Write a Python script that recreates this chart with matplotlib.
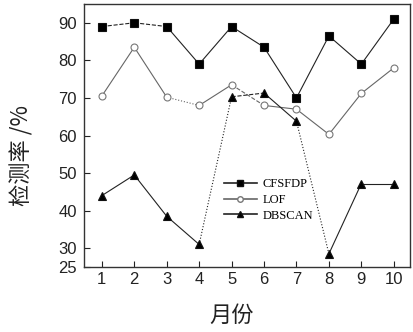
import numpy as np
import matplotlib.pyplot as plt
from matplotlib.lines import Line2D

plt.rcParams['font.family'] = ['Liberation Sans', 'Noto Sans CJK SC', 'DejaVu Sans']

months = np.arange(1, 11)
cfsfdp = [89, 90, 89, 79, 89, 83.5, 70, 86.5, 79, 91]
lof = [70.5, 83.5, 70.2, 68, 73.5, 68, 67, 60.3, 71.2, 78]
dbscan = [44, 49.5, 38.5, 31, 70.3, 71.3, 63.8, 28.5, 47.2, 47.2]
yticks = [25, 30, 40, 50, 60, 70, 80, 90]

# per-segment line styles as seen in the scan
seg_styles = {
    'CFSFDP': ['--', '--', '-', '-', '-', '-', '-', '-', '-'],
    'LOF': ['-', '-', ':', '-', '--', '-', '-', '-', '-'],
    'DBSCAN': ['-', '-', '-', ':', '--', '-', ':', '-', '-'],
}
series = [
    ('CFSFDP', cfsfdp, 's', 'black'),
    ('LOF', lof, 'o', 'white'),
    ('DBSCAN', dbscan, '^', 'black'),
]

fig = plt.figure(figsize=(4.14, 3.32), dpi=100)
ax = fig.add_axes([84 / 414, 1 - 267 / 332, 326 / 414, 263 / 332])

handles = []
for name, vals, mk, fc in series:
    lc = '#666666' if name == 'LOF' else '#222222'
    ec = '#777777' if name == 'LOF' else '#111111'
    styles = seg_styles[name]
    for i in range(len(months) - 1):
        ax.plot(months[i:i + 2], vals[i:i + 2], color=lc, lw=0.8, ls=styles[i])
    ax.plot(months, vals, ls='none', marker=mk, ms=5.5 if mk != 'o' else 5,
            mfc=fc, mec=ec, mew=0.8)
    handles.append(Line2D([], [], color=lc, lw=1.2, marker=mk, ms=4.5 if mk != 'o' else 4,
                          mfc=fc, mec=ec, label=name))

ax.set_xlim(0.45, 10.5)
ax.set_ylim(25, 95)
ax.set_xticks(months)
ax.set_yticks(yticks)
ax.tick_params(direction='in', labelsize=12, length=4, width=0.8, colors='#222222')
ax.tick_params(axis='y', pad=5)
for sp in ax.spines.values():
    sp.set_color('#333333')
    sp.set_linewidth(1.0)

leg = ax.legend(handles=handles, loc='upper left', bbox_to_anchor=(0.395, 0.38),
                frameon=False, handlelength=2.6, handletextpad=0.5, labelspacing=0.3,
                prop={'family': 'Liberation Serif', 'size': 9})

fig.text(22 / 414, 1 - 155 / 332, '检测率 /%', rotation=90, ha='center', va='center',
         fontsize=16, family=['Noto Sans CJK SC', 'DejaVu Sans'], color='#222222')
fig.text(232 / 414, 1 - 315 / 332, '月份', ha='center', va='center',
         fontsize=16, family=['Noto Sans CJK SC', 'DejaVu Sans'], color='#222222')

fig.savefig('out.png', dpi=100)
